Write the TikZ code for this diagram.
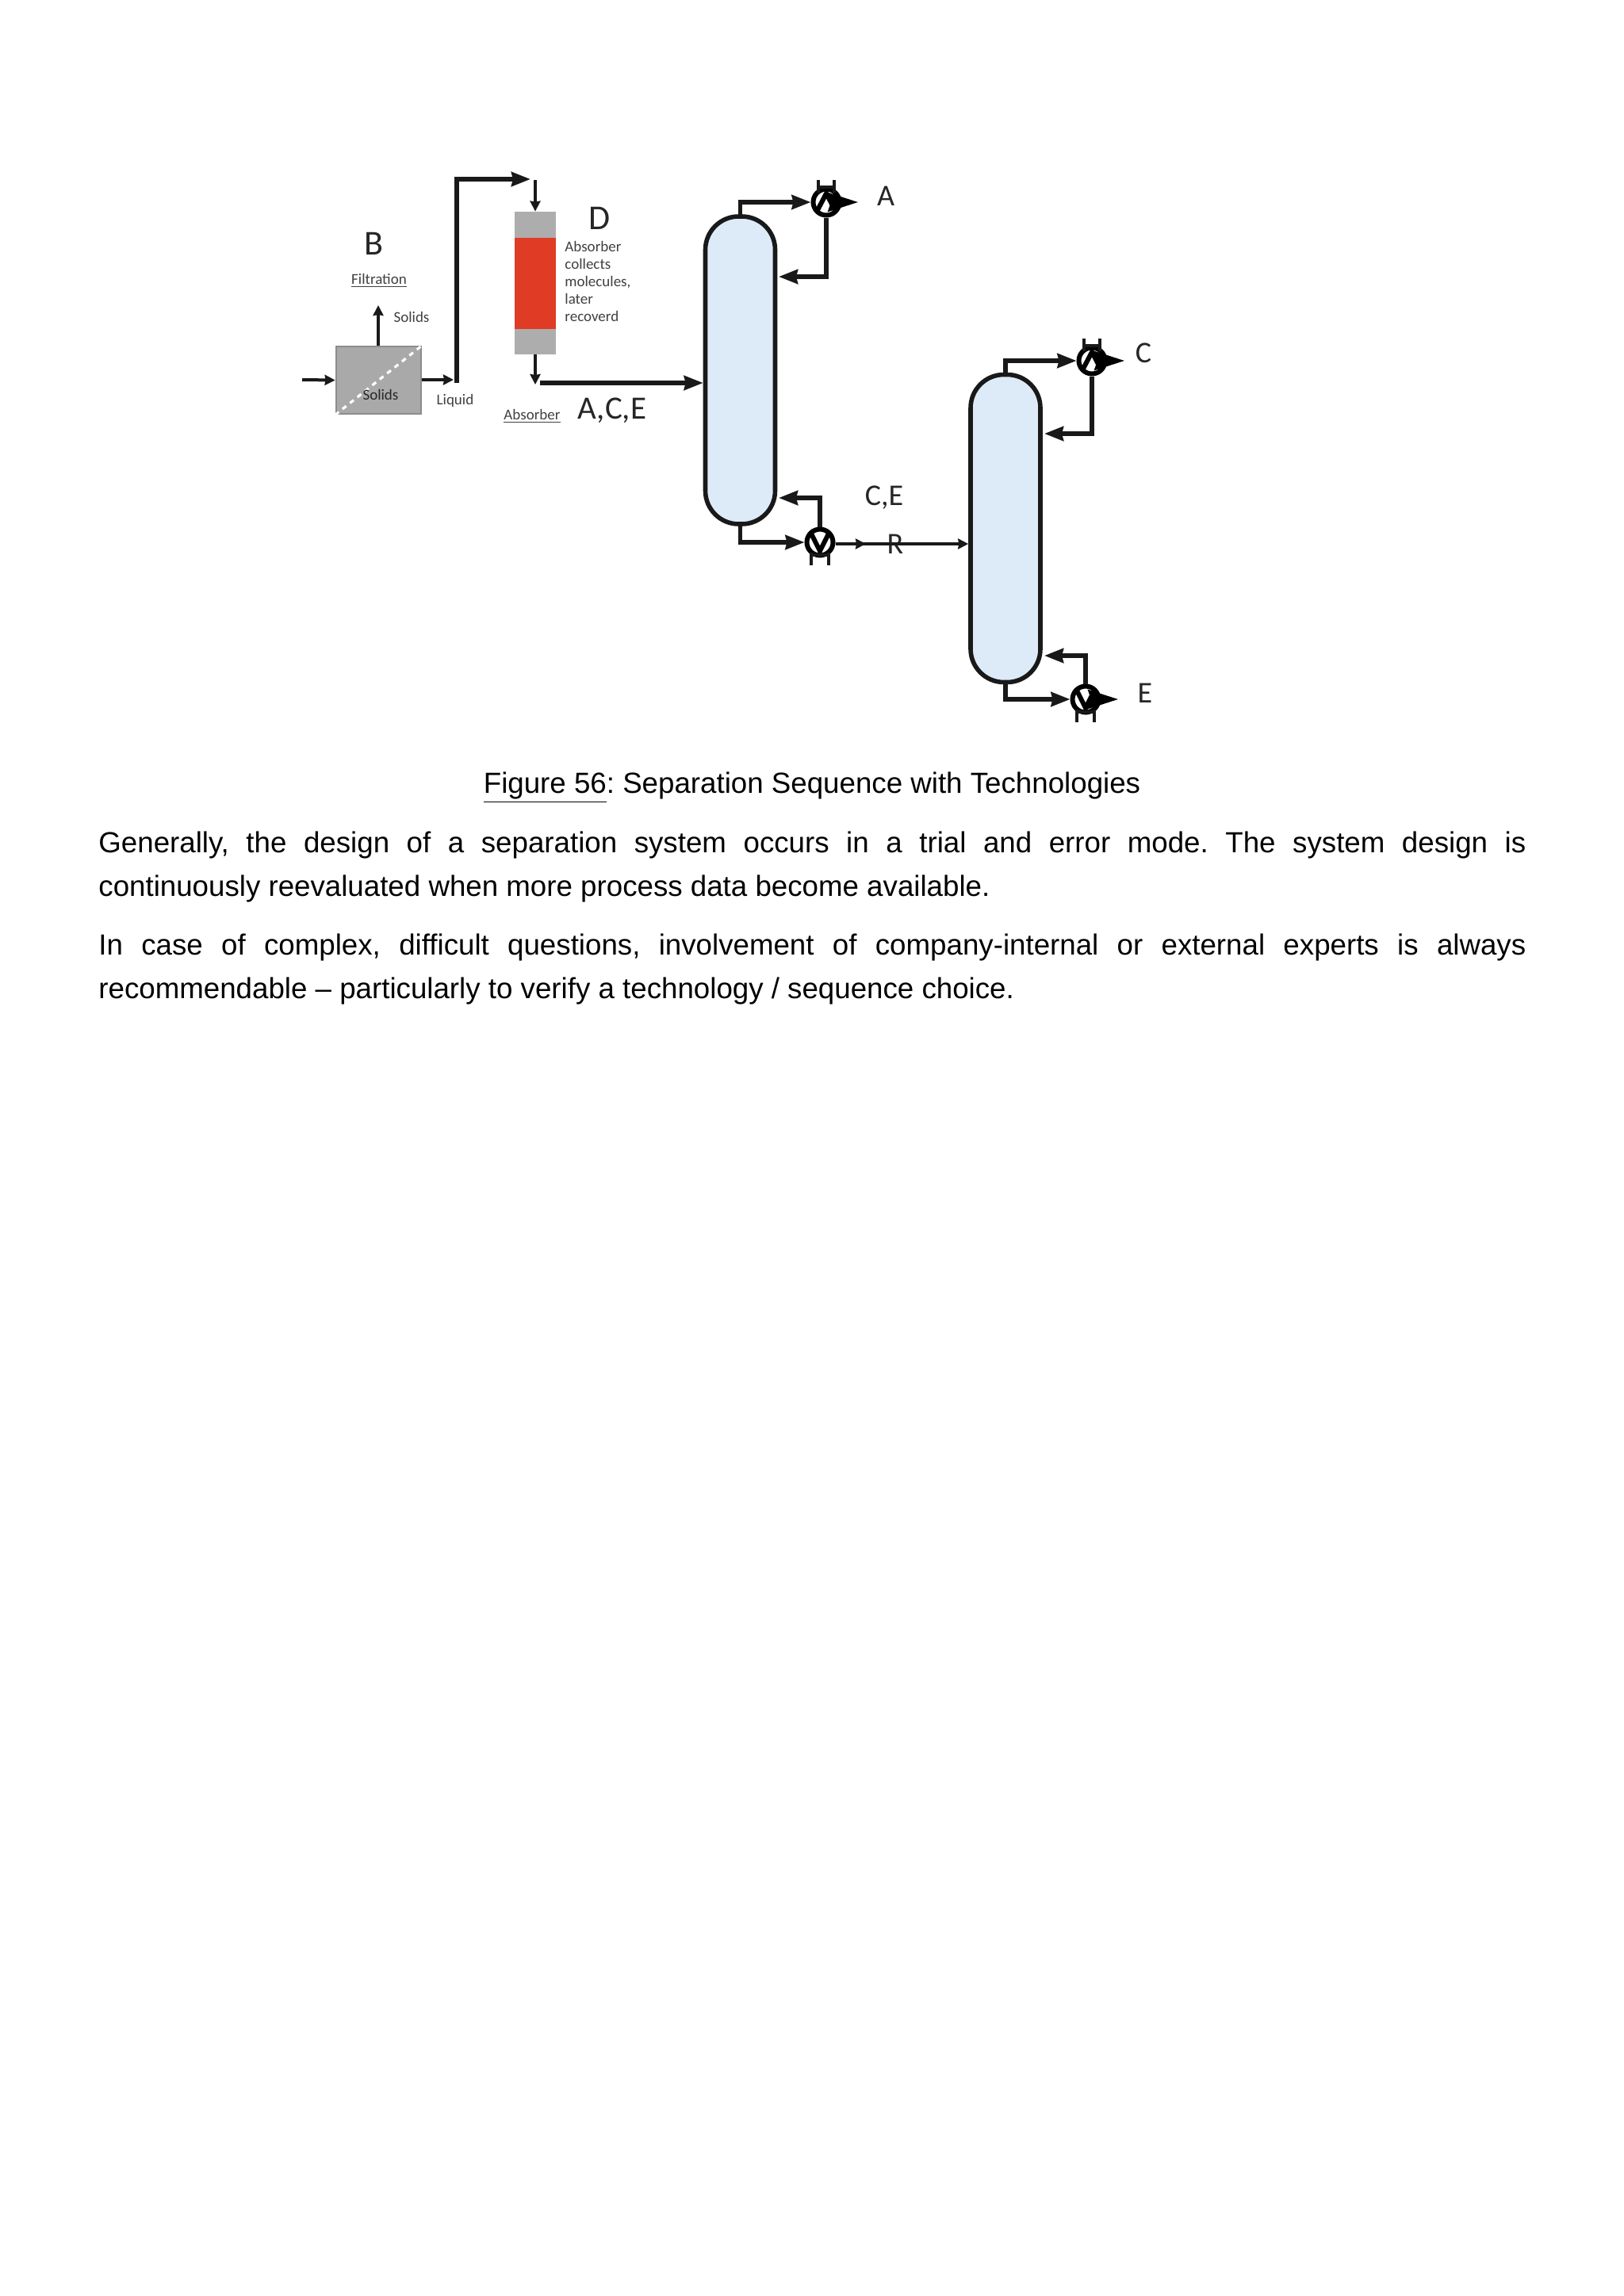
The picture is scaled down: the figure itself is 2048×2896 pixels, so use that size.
\documentclass[tikz,border=0pt]{standalone}
\usepackage{fontspec}
\setmainfont{Liberation Sans}
\newfontfamily\labelfont{Carlito}
\usepackage{xcolor}
\usepackage{tikz}
\usetikzlibrary{arrows.meta}
\definecolor{colblue}{HTML}{DDEBF8}
\definecolor{boxgray}{HTML}{A9A9A9}
\definecolor{bedred}{HTML}{E03C25}

\begin{document}
\frenchspacing
\begin{tikzpicture}[x=0.5pt,y=-0.5pt,
    column/.style={draw=black!90,fill=colblue,line width=2.8pt,rounded corners=21pt,
      minimum width=44pt,minimum height=194pt,inner sep=0pt},
    exchanger/.style={circle,draw=black,fill=white,line width=3pt,minimum size=16.5pt,inner sep=0pt},
    pipe/.style={draw=black!90,line width=2.6pt,-{Stealth[length=12pt,width=9pt,inset=1pt]}},
    thinpipe/.style={draw=black!90,line width=2pt,-{Stealth[length=6.5pt,width=6.5pt,inset=0.5pt]}},
    product/.style={draw=black,line width=2pt,-{Stealth[length=19pt,width=12pt,inset=2pt]}},
    stub/.style={draw=black!90,line width=2pt},
    letter/.style={font=\labelfont\fontsize{22}{22}\selectfont,text=black!85},
    smallletter/.style={font=\labelfont\fontsize{19}{19}\selectfont,text=black!85},
    tiny/.style={font=\labelfont\fontsize{9.5}{11}\selectfont,text=black!75,inner sep=0pt},
    bodytext/.style={font=\fontsize{18.35}{27.5}\selectfont,text=black,inner sep=0pt,text width=900pt,align=justify}]
  \useasboundingbox (0,0) rectangle (2048,2896);

  % filtration
  \node[draw=black!45,fill=boxgray,line width=1.4pt,minimum width=53.5pt,minimum height=42.5pt,inner sep=0pt] (filter) at (477.5,479.5) {};
  \draw[white,line width=1.6pt,dashed] (filter.south west) -- (filter.north east);
  \node[tiny,text=black!85] (filtersolids) at (480,498) {Solids};
  \coordinate (feedin) at (381,479);
  \coordinate (solidsout) at (477,385);
  \coordinate (liquidout) at (572,479);
  \draw[thinpipe] (feedin) -- (filter.west);
  \draw[thinpipe] (filter.north -| solidsout) -- (solidsout);
  \draw[thinpipe] (filter.east |- liquidout) -- (liquidout);
  \node[letter] (labelb) at (471,307) {B};
  \node[tiny] (filtration) at (478,354) {\underline{Filtration}};
  \node[tiny] (solids) at (519,400) {Solids};
  \node[tiny] (liquid) at (574,505) {Liquid};

  % absorber
  \node[fill=boxgray!95,minimum width=26pt,minimum height=90pt,inner sep=0pt] (absorber) at (675,357) {};
  \node[fill=bedred,minimum width=26pt,minimum height=57.5pt,inner sep=0pt] (bed) at (675,357.5) {};
  \coordinate (riserbase) at (576,483);
  \coordinate (risertop) at (576,226);
  \coordinate (riserend) at (669,226);
  \coordinate (absorberin) at (675,227);
  \coordinate (absorberout) at (675,485);
  \draw[pipe] (riserbase) -- (risertop) -- (riserend);
  \draw[thinpipe] (absorberin) -- (absorber.north);
  \draw[thinpipe] (absorber.south) -- (absorberout);
  \node[letter] (labeld) at (756,275) {D};
  \node[tiny,anchor=north west,align=left] (absorbernote) at (712,304) {Absorber\\collects\\molecules,\\later\\recoverd};
  \node[tiny] (absorberlabel) at (671,525) {\underline{Absorber}};
  \node[letter,font=\labelfont\fontsize{20.5}{20.5}\selectfont] (labelace) at (772,518) {A,C,E};

  % first column
  \node[column] (cola) at (933.5,467) {};
  \node[exchanger] (conda) at (1042,255) {};
  \node[exchanger] (reba) at (1034,684) {};
  \coordinate (feedstart) at (681,483);
  \coordinate (refluxa) at (982,349);
  \coordinate (boilupa) at (982,628);
  \coordinate (proda) at (1082,255);
  \draw[pipe] (feedstart) -- (feedstart -| cola.west);
  \draw[pipe] (cola.north) |- (conda.west);
  \draw[pipe] (conda.south) |- (refluxa);
  \draw[line width=3pt] (1031,265) -- (1042,244) -- (1053,265);
  \draw[product] (conda.east) -- (proda);
  \draw[stub] (1032,227) -- (1032,243) (1052,227) -- (1052,243) (1032,236) -- (1052,236);
  \draw[pipe] (cola.south) |- (reba.west);
  \draw[pipe] (reba.north) |- (boilupa);
  \draw[line width=3pt] (1023,673) -- (1034,695) -- (1045,673);
  \draw[stub] (1023,697) -- (1023,713) (1045,697) -- (1045,713) (1023,700) -- (1045,700);
  \node[smallletter] (labela) at (1117,247) {A};
  \node[smallletter] (labelce) at (1115,628) {C,E};
  \node[smallletter] (labelr) at (1129,686) {R};

  % second column
  \node[column] (colb) at (1268,666.5) {};
  \node[exchanger] (condb) at (1377,455) {};
  \node[exchanger] (rebb) at (1369,882) {};
  \coordinate (midarrow) at (1092,686);
  \coordinate (midstart) at (1086,686);
  \coordinate (refluxb) at (1317,547);
  \coordinate (boilupb) at (1317,827);
  \coordinate (prodc) at (1418,455);
  \coordinate (prode) at (1410,882);
  \draw[thinpipe] (reba.east |- midarrow) -- (midarrow);
  \draw[thinpipe,line width=2.4pt] (midstart) -- (midstart -| colb.west);
  \draw[pipe] (colb.north) |- (condb.west);
  \draw[pipe] (condb.south) |- (refluxb);
  \draw[line width=3pt] (1366,465) -- (1377,444) -- (1388,465);
  \draw[product] (condb.east) -- (prodc);
  \draw[stub] (1367,427) -- (1367,443) (1387,427) -- (1387,443) (1367,436) -- (1387,436);
  \draw[pipe] (colb.south) |- (rebb.west);
  \draw[pipe] (rebb.north) |- (boilupb);
  \draw[line width=3pt] (1358,871) -- (1369,893) -- (1380,871);
  \draw[product] (rebb.east) -- (prode);
  \draw[stub] (1358,895) -- (1358,911) (1380,895) -- (1380,911) (1358,898) -- (1380,898);
  \node[smallletter] (labelc) at (1442,445) {C};
  \node[smallletter] (labele) at (1444,874) {E};

  % text
  \node[font=\fontsize{18.35}{27.5}\selectfont,inner sep=0pt] (caption) at (1024,993) {\underline{Figure 56}: Separation Sequence with Technologies};
  \node[bodytext,anchor=north west] (paraone) at (124,1048) {Generally, the design of a separation system occurs in a trial and error mode. The system design is\linebreak continuously reevaluated when more process data become available.};
  \node[bodytext,anchor=north west] (paratwo) at (124,1177) {In case of complex, difficult questions, involvement of company-internal or external experts is always\linebreak recommendable -- particularly to verify a technology / sequence choice.};
\end{tikzpicture}
\end{document}
